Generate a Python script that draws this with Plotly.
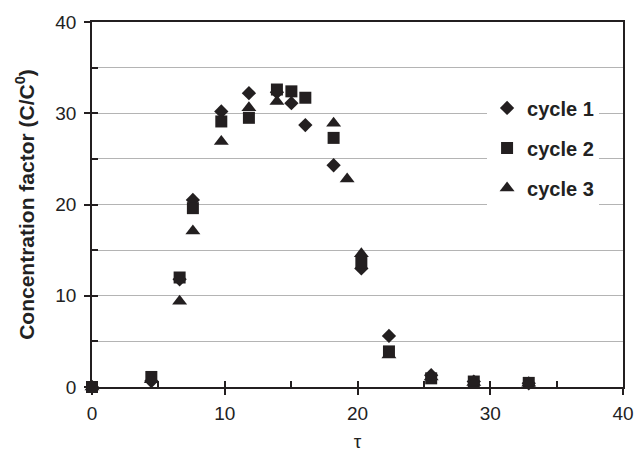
import plotly.graph_objects as go

# data
tau_1 = [0, 4.47, 6.6, 7.6, 9.74, 11.82, 13.93, 15.02, 16.07, 18.2, 20.29, 22.37, 25.55, 28.76, 32.9]
cycle_1 = [0, 0.65, 11.8, 20.5, 30.2, 32.2, 32.3, 31.1, 28.7, 24.3, 13.0, 5.6, 1.3, 0.6, 0.4]

tau_2 = [0, 4.47, 6.6, 7.6, 9.74, 11.82, 13.93, 15.02, 16.07, 18.2, 20.29, 22.37, 25.55, 28.76, 32.9]
cycle_2 = [0, 1.1, 12.0, 19.6, 29.1, 29.5, 32.6, 32.4, 31.7, 27.3, 13.6, 3.9, 0.95, 0.6, 0.45]

tau_3 = [0, 4.47, 6.6, 7.6, 9.74, 11.82, 13.93, 18.2, 19.22, 20.29, 22.37, 25.55, 28.76, 32.9]
cycle_3 = [0, 0.8, 9.4, 17.1, 26.9, 30.6, 31.3, 28.9, 22.8, 14.6, 3.5, 1.1, 0.5, 0.4]

x_ticks = [0, 10, 20, 30, 40]
y_ticks = [0, 10, 20, 30, 40]

INK = "#231f20"
FONT = "Liberation Sans, Arial, sans-serif"

fig = go.Figure()
fig.add_trace(go.Scatter(x=tau_1, y=cycle_1, mode="markers", name="<b>cycle 1</b>",
                         legendgroup="a", cliponaxis=False,
                         marker=dict(symbol="diamond", size=11, color=INK)))
fig.add_trace(go.Scatter(x=tau_2, y=cycle_2, mode="markers", name="<b>cycle 2</b>",
                         legendgroup="b", cliponaxis=False,
                         marker=dict(symbol="square", size=12, color=INK)))
fig.add_trace(go.Scatter(x=tau_3, y=cycle_3, mode="markers", name="<b>cycle 3</b>",
                         legendgroup="c", cliponaxis=False,
                         marker=dict(symbol="triangle-up", size=13, color=INK)))
# empty trace to carry the inside tick axes
fig.add_trace(go.Scatter(x=[], y=[], xaxis="x2", yaxis="y2", showlegend=False,
                         hoverinfo="skip"))

fig.update_layout(
    width=635, height=454,
    margin=dict(l=92, r=12, t=22, b=67),
    paper_bgcolor="white", plot_bgcolor="white",
    font=dict(family=FONT, color="#222222", size=19),
    showlegend=True,
    legend=dict(
        x=0.744, y=0.818, xanchor="left", yanchor="top",
        bgcolor="white", borderwidth=0,
        font=dict(family=FONT, size=20, color="#222222"),
        tracegroupgap=11, itemwidth=30,
    ),
    xaxis=dict(
        range=[0, 40], tickvals=x_ticks, ticktext=[str(v) for v in x_ticks],
        showgrid=False, zeroline=False, automargin=False,
        showline=True, linecolor=INK, linewidth=1.5, mirror=True,
        ticks="outside", ticklen=6, tickcolor=INK, tickwidth=1.5,
        tickfont=dict(size=19, color="#222222"),
        ticklabelstandoff=2,
        title=dict(text="τ", font=dict(size=19, color="#222222"), standoff=12),
    ),
    yaxis=dict(
        range=[0, 40], tickvals=y_ticks, ticktext=[str(v) for v in y_ticks],
        showgrid=True, gridcolor="#b4b4b4", gridwidth=1,
        minor=dict(dtick=5, showgrid=True, gridcolor="#b4b4b4", gridwidth=1),
        zeroline=False, automargin=False,
        showline=True, linecolor=INK, linewidth=1.5, mirror=True,
        ticks="outside", ticklen=6, tickcolor=INK, tickwidth=1.5,
        tickfont=dict(size=19, color="#222222"),
        ticklabelstandoff=4,
        title=dict(text="<b>Concentration factor (C/C<sup>0</sup>)</b>",
                   font=dict(size=21, color="#222222"), standoff=15),
    ),
    xaxis2=dict(
        overlaying="x", matches="x", anchor="y", range=[0, 40], automargin=False,
        dtick=5, tick0=0, ticks="inside", ticklen=6, tickcolor=INK, tickwidth=1.5,
        showticklabels=False, showgrid=False, zeroline=False, showline=False,
    ),
    yaxis2=dict(
        overlaying="y", matches="y", anchor="x", range=[0, 40], automargin=False,
        dtick=5, tick0=0, ticks="inside", ticklen=6, tickcolor=INK, tickwidth=1.5,
        showticklabels=False, showgrid=False, zeroline=False, showline=False,
    ),
)

fig.write_html("out.html", config={"displayModeBar": False},
               post_script="document.body.style.margin='0';document.body.style.overflow='hidden';")
